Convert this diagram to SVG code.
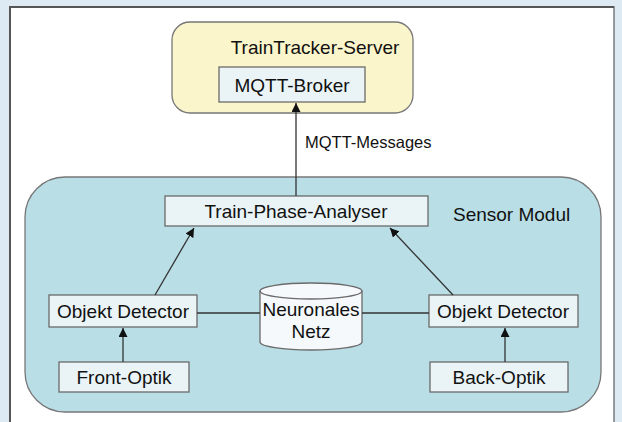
<svg xmlns="http://www.w3.org/2000/svg" width="622" height="422" viewBox="0 0 622 422">
<defs>
<style>
text{font-family:"Liberation Sans",Arial,sans-serif;fill:#111;}
.lbl{font-size:19px;text-anchor:middle;}
.box{fill:#eaf4f7;stroke:#6a6a6a;stroke-width:1.3;}
.con{stroke:#333;stroke-width:1.3;fill:none;}
</style>
<marker id="ah" viewBox="0 0 10 10" refX="10" refY="5" markerWidth="9" markerHeight="9" markerUnits="userSpaceOnUse" orient="auto">
<path d="M0,0 L10,5 L0,10 z" fill="#111"/>
</marker>
</defs>
<rect x="0" y="0" width="622" height="422" fill="#dde9f3"/>
<rect x="10" y="7" width="604" height="420" fill="#fff" stroke="#7a7a7a" stroke-width="1.5"/>
<path d="M10,427 L10,7 L614,7" fill="none" stroke="#555" stroke-width="2"/>

<g id="server">
<rect x="172" y="22" width="241" height="91" rx="18" fill="#fbf5cb" stroke="#777" stroke-width="1.3"/>
<text x="315" y="54" class="lbl">TrainTracker-Server</text>
</g>
<g id="sensor-modul">
<rect x="25" y="177" width="576" height="235" rx="40" fill="#b9dee6" stroke="#777" stroke-width="1.3"/>
<text x="453" y="221" font-size="19">Sensor Modul</text>
</g>
<g id="mqtt-broker">
<rect x="219" y="67" width="146" height="35" class="box"/>
<text x="292" y="92" class="lbl">MQTT-Broker</text>
</g>
<g id="train-phase-analyser">
<rect x="165" y="196" width="263" height="30" class="box"/>
<text x="296" y="218" class="lbl">Train-Phase-Analyser</text>
</g>
<g id="objekt-detector-left">
<rect x="49" y="295" width="148" height="32" class="box"/>
<text x="123" y="318" class="lbl">Objekt Detector</text>
</g>
<g id="objekt-detector-right">
<rect x="429" y="295" width="149" height="32" class="box"/>
<text x="503" y="318" class="lbl">Objekt Detector</text>
</g>
<g id="front-optik">
<rect x="59" y="362" width="130" height="30" class="box"/>
<text x="124" y="384" class="lbl">Front-Optik</text>
</g>
<g id="back-optik">
<rect x="430" y="362" width="138" height="30" class="box"/>
<text x="499" y="384" class="lbl">Back-Optik</text>
</g>
<g id="neuronales-netz">
<path d="M260,291 L260,342 A51,8 0 0 0 362,342 L362,291 A51,8 0 0 0 260,291 Z" fill="#f5f9fb" stroke="#6a6a6a" stroke-width="1.3"/>
<path d="M260,291 A51,8 0 0 0 362,291" fill="none" stroke="#6a6a6a" stroke-width="1.3"/>
<text x="311" y="316" class="lbl">Neuronales</text>
<text x="311" y="338" class="lbl">Netz</text>
</g>

<g id="connectors">
<line x1="296" y1="196" x2="296" y2="103" class="con" marker-end="url(#ah)"/>
<text x="305" y="148" font-size="16.5">MQTT-Messages</text>
<line x1="155" y1="295" x2="194" y2="228" class="con" marker-end="url(#ah)"/>
<line x1="453" y1="295" x2="390" y2="228" class="con" marker-end="url(#ah)"/>
<line x1="123" y1="362" x2="123" y2="328" class="con" marker-end="url(#ah)"/>
<line x1="505" y1="362" x2="505" y2="328" class="con" marker-end="url(#ah)"/>
<line x1="197" y1="313" x2="260" y2="313" class="con" stroke="#555"/>
<line x1="362" y1="313" x2="429" y2="313" class="con" stroke="#555"/>
</g>
</svg>
